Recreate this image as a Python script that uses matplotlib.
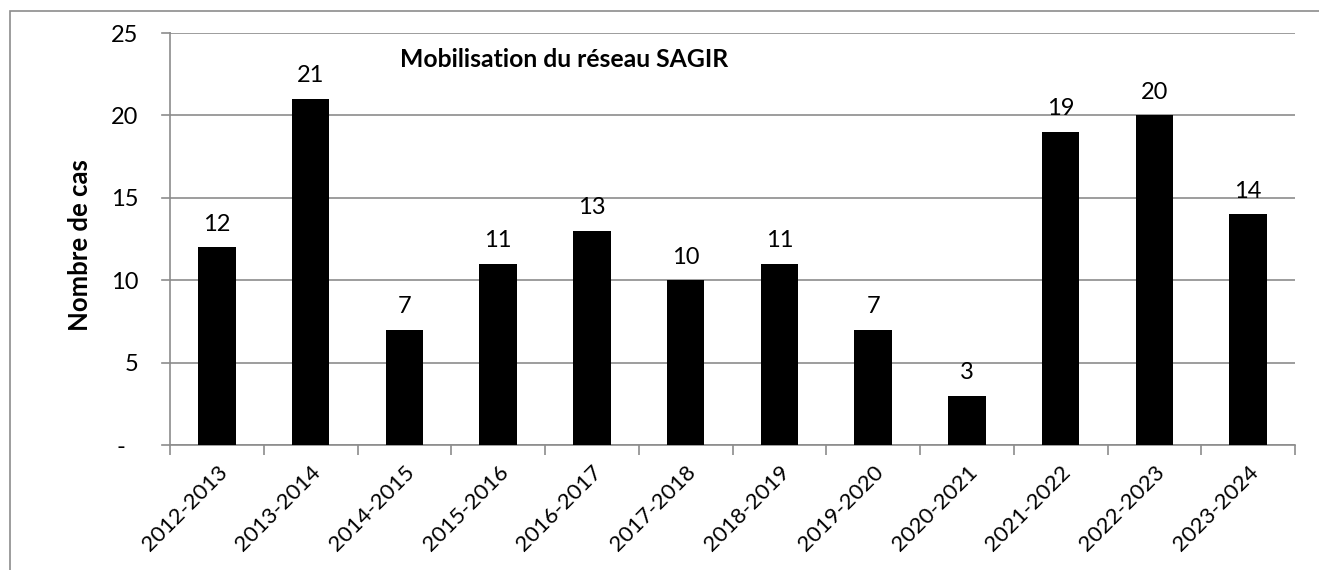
import matplotlib
matplotlib.use("Agg")
import matplotlib.pyplot as plt
from matplotlib.patches import Rectangle
import numpy as np

categories = ["2012-2013", "2013-2014", "2014-2015", "2015-2016", "2016-2017", "2017-2018",
              "2018-2019", "2019-2020", "2020-2021", "2021-2022", "2022-2023", "2023-2024"]
values = [12, 21, 7, 11, 13, 10, 11, 7, 3, 19, 20, 14]
yticks = [0, 5, 10, 15, 20, 25]
ytick_labels = ["-\u00a0\u00a0", "5", "10", "15", "20", "25"]

plt.rcParams['font.family'] = ['Lato', 'DejaVu Sans']
FS = 17

W, H = 1319, 570
fig = plt.figure(figsize=(W / 100, H / 100), dpi=100)
ax = fig.add_axes([170 / W, 1 - 445 / H, (1295 - 170) / W, (445 - 33) / H])

# outer chart border
fig.patches.append(Rectangle((10 / W, -0.01), 1.0, 1 - 11 / H + 0.01, transform=fig.transFigure,
                             fill=False, edgecolor="#8c8c8c", linewidth=1.2))

x = np.arange(len(categories))
ax.bar(x, values, width=0.4, color="black", zorder=3)
for xi, v in zip(x, values):
    ax.annotate(str(v), (xi, v), xytext=(0, 12), textcoords="offset points",
                ha="center", va="baseline", fontsize=FS)

ax.set_xlim(-0.5, len(categories) - 0.5)
ax.set_ylim(0, 25)
ax.set_yticks(yticks)
ax.set_yticklabels(ytick_labels, fontsize=FS)
ax.yaxis.grid(True, color="#8c8c8c", linewidth=1.2, zorder=0)
for yt in yticks:
    ax.plot([-0.5 - 8 / 93.75, -0.5], [yt, yt], color="#8c8c8c", lw=1.2, clip_on=False, zorder=1)
ax.tick_params(axis="y", length=0, pad=23)

ax.set_xticks(x)
ax.set_xticklabels(categories, rotation=45, ha="right", rotation_mode="anchor", fontsize=16)
ax.tick_params(axis="x", length=0, pad=12)
ax.set_xticks(np.arange(-0.5, len(categories)), minor=True)
ax.tick_params(axis="x", which="minor", length=7, width=1.2, color="#8c8c8c", direction="out")

for s in ["top", "right"]:
    ax.spines[s].set_visible(False)
for s in ["left", "bottom"]:
    ax.spines[s].set_color("#8c8c8c")
    ax.spines[s].set_linewidth(1.2)

fig.text(80 / W, 1 - 245 / H, "Nombre de cas", rotation=90, fontsize=18.5, fontweight="bold",
         ha="center", va="center")
ax.text(1.95, 23.4, "Mobilisation du réseau SAGIR", fontsize=17.8, fontweight="bold",
        va="center", ha="left")

fig.savefig("out.png", dpi=100)
